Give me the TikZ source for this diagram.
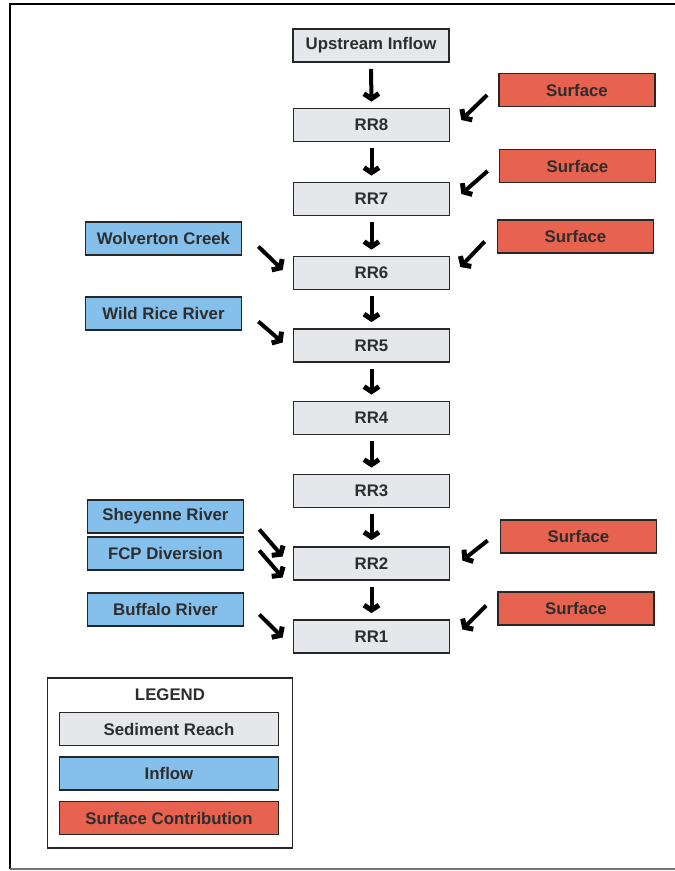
\documentclass[tikz,border=0pt]{standalone}
\usepackage{fontspec}
\setmainfont{Liberation Sans}
\usetikzlibrary{arrows.meta,calc}
\definecolor{reachfill}{RGB}{229,231,234}
\definecolor{inflowfill}{RGB}{132,192,235}
\definecolor{surffill}{RGB}{232,98,80}
\definecolor{txt}{RGB}{45,45,45}
\tikzset{
  box/.style={draw=black!85, line width=1.7pt, minimum width=156pt, minimum height=33pt,
    inner sep=0pt, font=\bfseries\fontsize{16.8}{19}\selectfont, text=txt},
  reach/.style={box, fill=reachfill},
  inflow/.style={box, fill=inflowfill},
  surf/.style={box, fill=surffill},
  lbox/.style={box, minimum width=219pt},
  arr/.style={line width=4pt, black, line cap=butt,
    -{Straight Barb[length=5pt,width=15pt,line width=5pt]}},
}
\begin{document}
\begin{tikzpicture}[x=1pt,y=-1pt]
\useasboundingbox (0,0) rectangle (675,871);
\fill[white] (0,0) rectangle (675,871);
% outer frame
\draw[line width=2.5pt] (10,869) -- (10,4) -- (676,4);
\draw[line width=1.5pt, black!55] (10,869) -- (676,869);

% main column
\node[reach] (up)  at (371,45.5) {Upstream Inflow};
\node[reach] (rr8) at (371.5,125) {RR8};
\node[reach] (rr7) at (371.5,199) {RR7};
\node[reach] (rr6) at (371.5,273) {RR6};
\node[reach] (rr5) at (371.5,345.5) {RR5};
\node[reach] (rr4) at (371.5,418) {RR4};
\node[reach] (rr3) at (371.5,491) {RR3};
\node[reach] (rr2) at (371.5,563.5) {RR2};
\node[reach] (rr1) at (371.5,636.5) {RR1};

% surface contributions
\node[surf] (s8) at (577,90) {Surface};
\node[surf] (s7) at (577.5,166) {Surface};
\node[surf] (s6) at (575.5,236.5) {Surface};
\node[surf] (s2) at (578.5,536.5) {Surface};
\node[surf] (s1) at (576,608.5) {Surface};

% inflows
\node[inflow] (wc) at (163.5,238.5) {Wolverton Creek};
\node[inflow] (wr) at (163.5,313.5) {Wild Rice River};
\node[inflow] (sr) at (165.5,516.5) {Sheyenne River};
\node[inflow] (fcp) at (165.5,553.5) {FCP Diversion};
\node[inflow] (br) at (165.5,609.5) {Buffalo River};

% down arrows
\foreach \a/\b in {up/rr8, rr8/rr7, rr7/rr6, rr6/rr5, rr5/rr4, rr4/rr3, rr3/rr2, rr2/rr1}
  \draw[arr, shorten <=6pt, shorten >=6pt] (\a.south) -- (\b.north);

% surface arrows
\draw[arr] ($(s8.west)+(-11,5)$) -- ($(rr8.east)+(11,-5)$);
\draw[arr] ($(s7.west)+(-11,5)$) -- ($(rr7.east)+(11,-5)$);
\draw[arr] ($(s6.west)+(-12,5)$) -- ($(rr6.east)+(10,-6)$);
\draw[arr] ($(s2.west)+(-12,4)$) -- ($(rr2.east)+(12,-3)$);
\draw[arr] ($(s1.west)+(-11,-3)$) -- ($(rr1.east)+(12,-7)$);

% inflow arrows
\draw[arr] ($(wc.east)+(16,8)$) -- ($(rr6.west)+(-10,-3)$);
\draw[arr] ($(wr.east)+(16,8)$) -- ($(rr5.west)+(-10,-3)$);
\draw[arr] ($(sr.east)+(15,13)$) -- ($(rr2.west)+(-10,-7)$);
\draw[arr] ($(fcp.east)+(15,-3)$) -- ($(rr2.west)+(-10,14)$);
\draw[arr] ($(br.east)+(15,5)$) -- ($(rr1.west)+(-10,1)$);

% legend
\node[draw=black!85, line width=1.7pt, minimum width=245pt, minimum height=170pt, inner sep=0pt] (leg) at (170,763) {};
\node[font=\bfseries\fontsize{16.8}{19}\selectfont, text=txt] (legt) at (170,695) {LEGEND};
\node[lbox, fill=reachfill] (l1) at (169,729) {Sediment Reach};
\node[lbox, fill=inflowfill] (l2) at (169,773.5) {Inflow};
\node[lbox, fill=surffill] (l3) at (169,818) {Surface Contribution};
\end{tikzpicture}
\end{document}
